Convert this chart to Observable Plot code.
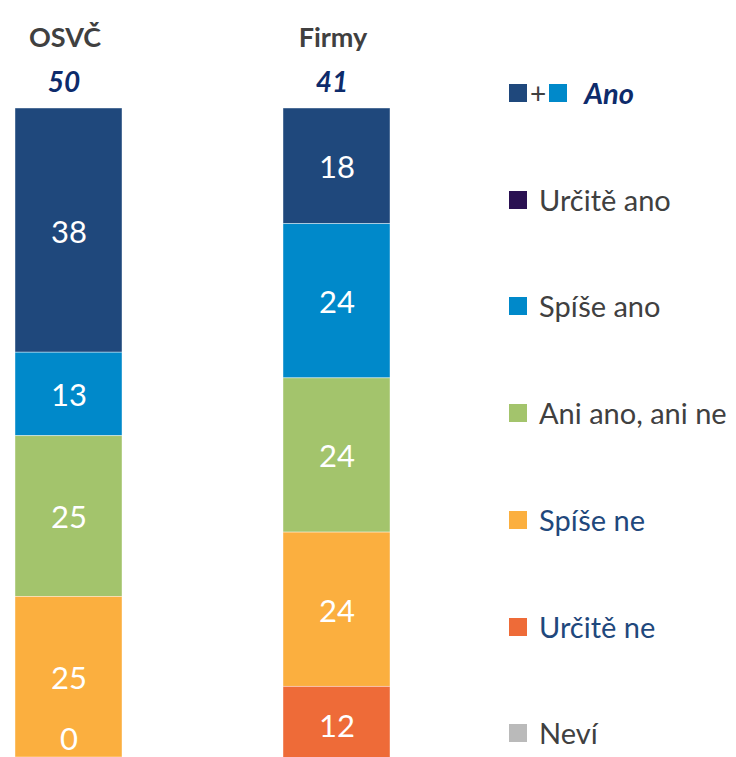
<!DOCTYPE html>
<html><head><meta charset="utf-8">
<script src="https://cdn.jsdelivr.net/npm/d3@7"></script>
<script src="https://cdn.jsdelivr.net/npm/@observablehq/plot@0.6"></script>
<style>
html,body{margin:0;padding:0;background:#fff;overflow:hidden}
#wrap{position:relative;width:736px;height:757px;overflow:hidden;font-family:Lato,"Open Sans",sans-serif}
#wrap svg{position:absolute;left:0;top:0}
.leg{position:absolute;left:509px;display:flex;align-items:center;height:40px;margin-top:-20px;white-space:nowrap}
.sw{width:18px;height:18px;display:inline-block}
.lt{font-size:29px;margin-left:12px;line-height:40px}
</style></head><body><div id="wrap"></div>
<script>
const groups = ["OSVČ", "Firmy"];
const totalsAno = [50, 41];
const series = ["Určitě ano", "Spíše ano", "Ani ano, ani ne", "Spíše ne", "Určitě ne", "Neví"];
const valuesOSVC = [38, 13, 25, 25, 0, null];
const valuesFirmy = [18, 24, 24, 24, 12, null];
const anoLabel = "Ano";

const barColors = ["#1F487C", "#0089CA", "#A3C46C", "#FBAF3F", "#EE6B38", "#BABABA"];
const legendColors = ["#2A1152", "#0089CA", "#A3C46C", "#FBAF3F", "#EE6B38", "#BABABA"];
const legendTextColors = ["#404040", "#404040", "#404040", "#1F487C", "#1F487C", "#404040"];

const rows = [];
[valuesOSVC, valuesFirmy].forEach((vals, gi) => {
  vals.forEach((v, si) => { if (v != null) rows.push({group: groups[gi], series: series[si], value: v}); });
});
const heads = groups.map((g, i) => ({group: g, total: totalsAno[i]}));

const chart = Plot.plot({
  width: 736, height: 757,
  marginTop: 108, marginBottom: 0, marginLeft: 0, marginRight: 0,
  style: {fontFamily: "Lato, 'Open Sans', sans-serif", background: "transparent", overflow: "visible"},
  x: {domain: groups, range: [14.7, 390.6], paddingInner: 0.6005, paddingOuter: 0, axis: null},
  y: {domain: [0, 101], reverse: true, axis: null},
  color: {type: "ordinal", domain: series, range: barColors},
  marks: [
    Plot.barY(rows, Plot.stackY({x: "group", y: "value", fill: "series", stroke: "white", strokeWidth: 0.7, strokeOpacity: 0.6, inset: 0})),
    Plot.text(rows, Plot.stackY({x: "group", y: "value", text: d => d.value > 0 ? String(d.value) : null, fill: "white", fontSize: 31, dy: 2})),
    Plot.text(rows, Plot.stackY({x: "group", y: "value", text: d => d.value === 0 ? String(d.value) : null, fill: "white", fontSize: 31, dy: -17})),
    Plot.text(heads, {x: "group", frameAnchor: "top", dy: -81, dx: -4, text: "group", fill: "#404040", fontSize: 27, fontWeight: "bold"}),
    Plot.text(heads, {x: "group", frameAnchor: "top", dy: -36, dx: -5, text: d => String(d.total), fill: "#0D2B6B", fontSize: 28, fontWeight: "bold", fontStyle: "italic"})
  ]
});
const wrap = document.getElementById("wrap");
wrap.appendChild(chart);

// legend
const step = 106.7, top0 = 93;
const anoRow = document.createElement("div");
anoRow.className = "leg";
anoRow.style.top = top0 + "px";
anoRow.innerHTML = `<span class="sw" style="background:${barColors[0]}"></span><span style="font-size:28px;color:#404040;margin:0 3px 0 3px;line-height:40px">+</span><span class="sw" style="background:${barColors[1]}"></span><span style="font-size:29px;font-weight:bold;font-style:italic;color:#0D2B6B;margin-left:17px;line-height:40px">${anoLabel}</span>`;
wrap.appendChild(anoRow);
series.forEach((s, i) => {
  const r = document.createElement("div");
  r.className = "leg";
  r.style.top = (top0 + step * (i + 1)) + "px";
  r.innerHTML = `<span class="sw" style="background:${legendColors[i]}"></span><span class="lt" style="color:${legendTextColors[i]}">${s}</span>`;
  wrap.appendChild(r);
});
</script></body></html>
